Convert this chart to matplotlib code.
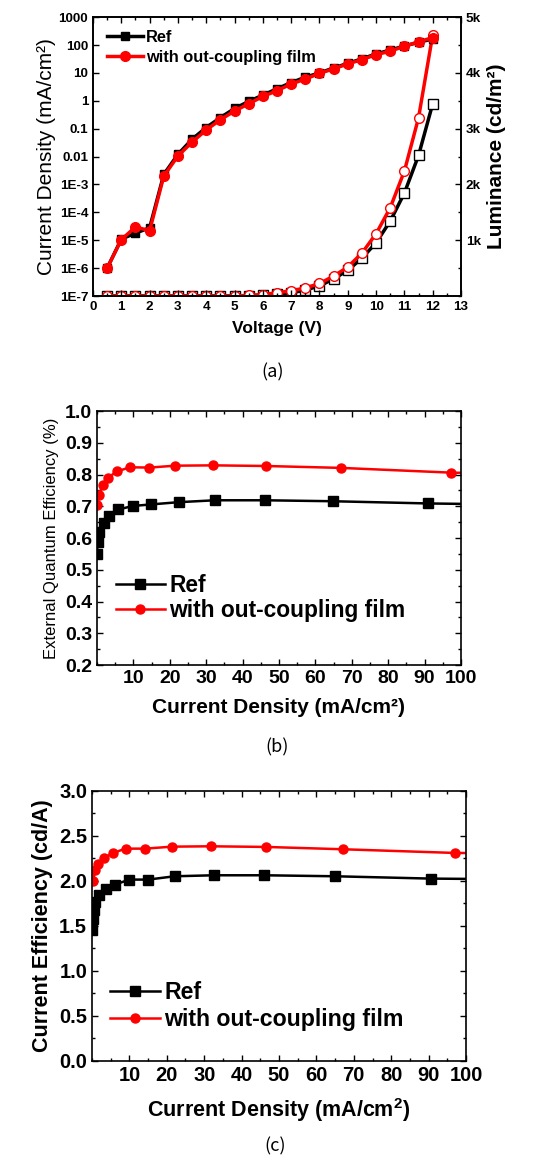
import numpy as np
import matplotlib
matplotlib.use("Agg")
import matplotlib.pyplot as plt
from matplotlib.ticker import MultipleLocator, FixedLocator, FixedFormatter, NullLocator

plt.rcParams["font.family"] = ["Liberation Sans", "DejaVu Sans"]
plt.rcParams["mathtext.fontset"] = "custom"
plt.rcParams["mathtext.rm"] = "Liberation Sans"
plt.rcParams["mathtext.bf"] = "Liberation Sans:bold"

# (a) J-V-L
volt = [0.5, 1.0, 1.5, 2.0, 2.5, 3.0, 3.5, 4.0, 4.5, 5.0, 5.5, 6.0,
        6.5, 7.0, 7.5, 8.0, 8.5, 9.0, 9.5, 10.0, 10.5, 11.0, 11.5, 12.0]
j_ref = [1.0e-6, 1.1e-5, 1.8e-5, 2.8e-5, 2.3e-3, 0.012, 0.042, 0.11, 0.25, 0.53, 0.95, 1.6,
         2.7, 4.5, 7.0, 10, 15, 22, 32, 48, 66, 92, 125, 165]
j_film = [1.0e-6, 1.05e-5, 3.0e-5, 2.2e-5, 2.0e-3, 0.0105, 0.033, 0.09, 0.21, 0.43, 0.78, 1.43,
          2.3, 4.0, 6.0, 9.6, 14, 21, 30, 45, 60, 90, 130, 185]
lum_ref = [3, 3, 3, 3, 3, 3, 3, 3, 3, 3, 8, 18,
           35, 55, 110, 180, 310, 460, 680, 955, 1344, 1846, 2521, 3447]
lum_film = [3, 3, 3, 3, 3, 3, 3, 3, 3, 3, 10, 25,
            60, 95, 145, 225, 358, 520, 770, 1117, 1583, 2240, 3196, 4683]

# (b) EQE vs J
eqe_j_ref = [0.0, 0.2, 0.6, 1.8, 3.4, 5.9, 9.8, 14.9, 22.4, 32.4, 46.2, 64.8, 91.0, 125]
eqe_ref = [0.551, 0.588, 0.619, 0.646, 0.670, 0.690, 0.701, 0.706, 0.713, 0.719, 0.719, 0.716, 0.709, 0.704]
eqe_j_film = [0.0, 0.6, 1.6, 3.0, 5.5, 9.1, 14.4, 21.5, 32.0, 46.4, 67.1, 97.4, 135]
eqe_film = [0.703, 0.737, 0.766, 0.790, 0.810, 0.823, 0.822, 0.828, 0.829, 0.827, 0.821, 0.806, 0.800]

# (c) current efficiency vs J
ce_j_ref = [0.0, 0.3, 0.5, 0.9, 2.0, 3.7, 6.1, 10.0, 15.0, 22.1, 32.6, 46.1, 65.0, 90.7, 125]
ce_ref = [1.452, 1.58, 1.674, 1.767, 1.84, 1.907, 1.959, 2.015, 2.015, 2.052, 2.063, 2.063, 2.052, 2.026, 2.015]
ce_j_film = [0.27, 0.9, 1.6, 3.2, 5.6, 9.0, 14.2, 21.4, 31.7, 46.4, 67.1, 97.1, 135]
ce_film = [2.0, 2.119, 2.185, 2.256, 2.311, 2.359, 2.359, 2.381, 2.385, 2.378, 2.352, 2.311, 2.300]

log_ticks = [1e3, 1e2, 1e1, 1, 0.1, 0.01, 1e-3, 1e-4, 1e-5, 1e-6, 1e-7]
log_labels = ["1000", "100", "10", "1", "0.1", "0.01", "1E-3", "1E-4", "1E-5", "1E-6", "1E-7"]
lum_ticks = [1000, 2000, 3000, 4000, 5000]
lum_labels = ["1k", "2k", "3k", "4k", "5k"]

RED = "#ff0000"


def style_ticks(ax, size):
    ax.tick_params(which="both", direction="in", width=1, labelsize=size)
    ax.tick_params(which="major", length=4)
    ax.tick_params(which="minor", length=2.5)
    for lab in ax.get_xticklabels() + ax.get_yticklabels():
        lab.set_fontweight("bold")
    for s in ax.spines.values():
        s.set_linewidth(1.2)


fig = plt.figure(figsize=(5.37, 11.56), dpi=100)

# ---------- (a)
ax = fig.add_axes([0.1732, 0.7439, 0.6853, 0.2413])
ax2 = ax.twinx()
ax.set_zorder(ax2.get_zorder() + 1)
ax.patch.set_visible(False)

ax2.plot(volt, lum_ref, color="black", lw=2.5, marker="s", ms=6.5, mfc="white", mec="black", mew=1)
ax2.plot(volt, lum_film, color=RED, lw=2.5, marker="o", ms=7, mfc="white", mec=RED, mew=1)
ax.plot(volt, j_ref, color="black", lw=2.5, marker="s", ms=6, label="Ref")
ax.plot(volt, j_film, color=RED, lw=2.5, marker="o", ms=7, label="with out-coupling film")

ax.set_yscale("log")
ax.set_ylim(1e-7, 1e3)
ax.set_xlim(0, 13)
ax.yaxis.set_major_locator(FixedLocator(log_ticks))
ax.yaxis.set_major_formatter(FixedFormatter(log_labels))
ax.yaxis.set_minor_locator(NullLocator())
ax.xaxis.set_major_locator(MultipleLocator(1))
ax.xaxis.set_minor_locator(MultipleLocator(0.5))
ax.tick_params(axis="x", which="both", top=True)
ax2.set_ylim(0, 5000)
ax2.yaxis.set_major_locator(FixedLocator(lum_ticks))
ax2.yaxis.set_major_formatter(FixedFormatter(lum_labels))
ax2.yaxis.set_minor_locator(MultipleLocator(500))
style_ticks(ax, 9.7)
style_ticks(ax2, 9.7)
ax.set_xlabel("Voltage (V)", fontsize=12.5, fontweight="bold", labelpad=6)
ax.set_ylabel("Current Density (mA/cm²)", fontsize=15, labelpad=2)
ax2.set_ylabel("Luminance (cd/m²)", fontsize=15, fontweight="bold", labelpad=4)
ax.legend(loc="center left", bbox_to_anchor=(0.038, 0.891), frameon=False,
          prop={"size": 11.8, "weight": "bold"}, handlelength=2.2, handletextpad=0.2,
          borderpad=0, borderaxespad=0, labelspacing=0.3)
fig.text(0.508, 1 - 372 / 1156, "(a)", ha="center", va="center", fontsize=13,
         family=["Noto Sans CJK KR", "DejaVu Sans"])

# ---------- (b)
bx = fig.add_axes([0.1806, 0.4247, 0.6778, 0.2197])
bx.plot(eqe_j_ref, eqe_ref, color="black", lw=1.8, marker="s", ms=6.5, label="Ref")
bx.plot(eqe_j_film, eqe_film, color=RED, lw=1.8, marker="o", ms=6.5, label="with out-coupling film")
bx.set_xlim(0, 100)
bx.set_ylim(0.2, 1.0)
bx.xaxis.set_major_locator(FixedLocator([10, 20, 30, 40, 50, 60, 70, 80, 90, 100]))
bx.xaxis.set_minor_locator(MultipleLocator(5))
bx.yaxis.set_major_locator(MultipleLocator(0.1))
bx.yaxis.set_minor_locator(MultipleLocator(0.05))
bx.yaxis.set_major_formatter(plt.FuncFormatter(lambda v, p: f"{v:.1f}"))
bx.tick_params(which="both", top=True, right=True)
style_ticks(bx, 14)
bx.set_xlabel("Current Density (mA/cm²)", fontsize=15, fontweight="bold", labelpad=8)
bx.set_ylabel("External Quantum Efficiency (%)", fontsize=12, labelpad=4)
bx.legend(loc="center left", bbox_to_anchor=(0.052, 0.264), frameon=False,
          prop={"size": 16.4, "weight": "bold"}, handlelength=2.15, handletextpad=0.2,
          borderpad=0, borderaxespad=0, labelspacing=0.1)
fig.text(0.516, 1 - 747 / 1156, "(b)", ha="center", va="center", fontsize=13,
         family=["Noto Sans CJK KR", "DejaVu Sans"])

# ---------- (c)
cx = fig.add_axes([0.1713, 0.0822, 0.6965, 0.2336])
cx.plot(ce_j_ref, ce_ref, color="black", lw=1.8, marker="s", ms=6.5, label="Ref")
cx.plot(ce_j_film, ce_film, color=RED, lw=1.8, marker="o", ms=6.5, label="with out-coupling film")
cx.set_xlim(0, 100)
cx.set_ylim(0, 3.0)
cx.xaxis.set_major_locator(FixedLocator([10, 20, 30, 40, 50, 60, 70, 80, 90, 100]))
cx.xaxis.set_minor_locator(MultipleLocator(5))
cx.yaxis.set_major_locator(MultipleLocator(0.5))
cx.yaxis.set_minor_locator(MultipleLocator(0.25))
cx.yaxis.set_major_formatter(plt.FuncFormatter(lambda v, p: f"{v:.1f}"))
cx.tick_params(which="both", top=True, right=True)
style_ticks(cx, 14.5)
cx.set_xlabel(r"Current Density (mA/cm$^{\mathbf{2}}$)", fontsize=15.5, fontweight="bold", labelpad=8)
cx.set_ylabel("Current Efficiency (cd/A)", fontsize=15.5, fontweight="bold", labelpad=4)
cx.legend(loc="center left", bbox_to_anchor=(0.048, 0.204), frameon=False,
          prop={"size": 16.7, "weight": "bold"}, handlelength=2.15, handletextpad=0.2,
          borderpad=0, borderaxespad=0, labelspacing=0.15)
fig.text(0.512, 1 - 1146 / 1156, "(c)", ha="center", va="center", fontsize=13,
         family=["Noto Sans CJK KR", "DejaVu Sans"])

fig.savefig("out.png", dpi=100)
